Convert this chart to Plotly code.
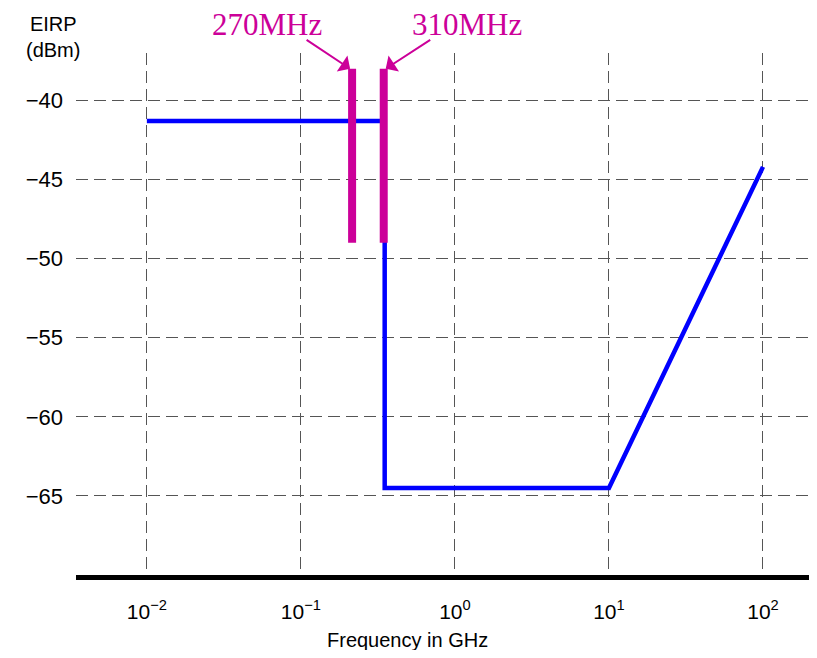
import math
import plotly.graph_objects as go

# Data
freq_ghz = [0.01, 0.35, 0.35, 10, 100]
eirp_dbm = [-41.3, -41.3, -64.5, -64.5, -44.2]
marker_freqs = [0.215, 0.345]
marker_top = -38
marker_bottom = -49
marker_labels = ["270MHz", "310MHz"]
x_tickvals = [0.01, 0.1, 1, 10, 100]
x_ticktext = ["10<sup>−2</sup>", "10<sup>−1</sup>", "10<sup>0</sup>", "10<sup>1</sup>", "10<sup>2</sup>"]
y_tickvals = [-65, -60, -55, -50, -45, -40]
y_ticktext = ["−65", "−60", "−55", "−50", "−45", "−40"]

OFF = 8  # page body margin
W, H = 817 - OFF, 658 - 2 * OFF
L, R, T, B = 76 - OFF, 0, 53 - OFF, (H + OFF) - 575
pw, ph = W - L - R, H - T - B
plot_right_px = OFF + W
x_right = 2 + (plot_right_px - 763) / 154.0

fig = go.Figure()
fig.add_trace(go.Scatter(x=freq_ghz, y=eirp_dbm, mode="lines",
                         line=dict(color="#0000ff", width=4.5),
                         showlegend=False, hoverinfo="skip"))
for f in marker_freqs:
    fig.add_trace(go.Scatter(x=[f, f], y=[marker_top, marker_bottom], mode="lines",
                             line=dict(color="#cc0099", width=8),
                             showlegend=False, hoverinfo="skip"))

def px_x(p):
    return (p - OFF - L) / pw

def px_y(p):
    return (H - B - (p - OFF)) / ph

annotations = []
label_px = [(267, 25), (467, 25)]
for (lx, ly), txt in zip(label_px, marker_labels):
    annotations.append(dict(x=px_x(lx), y=px_y(ly), xref="paper", yref="paper",
                            xanchor="center", yanchor="middle",
                            text=txt, showarrow=False,
                            font=dict(family="Liberation Serif, Times New Roman, serif",
                                      size=31, color="#cc0099")))
arrow_offsets = [(-45, -30, -1), (46, -30, 1)]
for f, (axo, ayo, side) in zip(marker_freqs, arrow_offsets):
    annotations.append(dict(x=math.log10(f), y=marker_top, xref="x", yref="y",
                            xshift=side * 2,
                            ax=axo, ay=ayo, text="", showarrow=True,
                            arrowhead=1, arrowsize=1.6, arrowwidth=2,
                            arrowcolor="#cc0099", standoff=0))
annotations.append(dict(x=px_x(53), y=px_y(37), xref="paper", yref="paper",
                        xanchor="center", yanchor="middle",
                        text="EIRP<br>(dBm)", showarrow=False, align="center",
                        font=dict(family="Liberation Sans, Arial, sans-serif", size=20, color="black")))
annotations.append(dict(x=px_x(407), y=px_y(640), xref="paper", yref="paper",
                        xanchor="center", yanchor="middle",
                        text="Frequency in GHz", showarrow=False,
                        font=dict(family="Liberation Sans, Arial, sans-serif", size=20, color="black")))

fig.update_layout(
    width=W, height=H,
    margin=dict(l=L, r=R, t=T, b=B, pad=0),
    paper_bgcolor="white", plot_bgcolor="white",
    annotations=annotations,
    font=dict(family="Liberation Sans, Arial, sans-serif", size=20, color="black"),
)
fig.update_xaxes(type="log", range=[-2.46, x_right],
                 tickvals=x_tickvals, ticktext=x_ticktext,
                 showgrid=True, gridcolor="#555555", gridwidth=1, griddash="12px,6px",
                 showline=True, linecolor="black", linewidth=5,
                 ticks="", ticklabelstandoff=14, zeroline=False,
                 tickfont=dict(size=21))
fig.update_yaxes(range=[-70, -37],
                 tickvals=y_tickvals, ticktext=y_ticktext,
                 showgrid=True, gridcolor="#555555", gridwidth=1, griddash="12px,6px",
                 showline=False, zeroline=False, ticks="", ticklabelstandoff=12,
                 tickfont=dict(size=22))

fig.write_html("out.html")
